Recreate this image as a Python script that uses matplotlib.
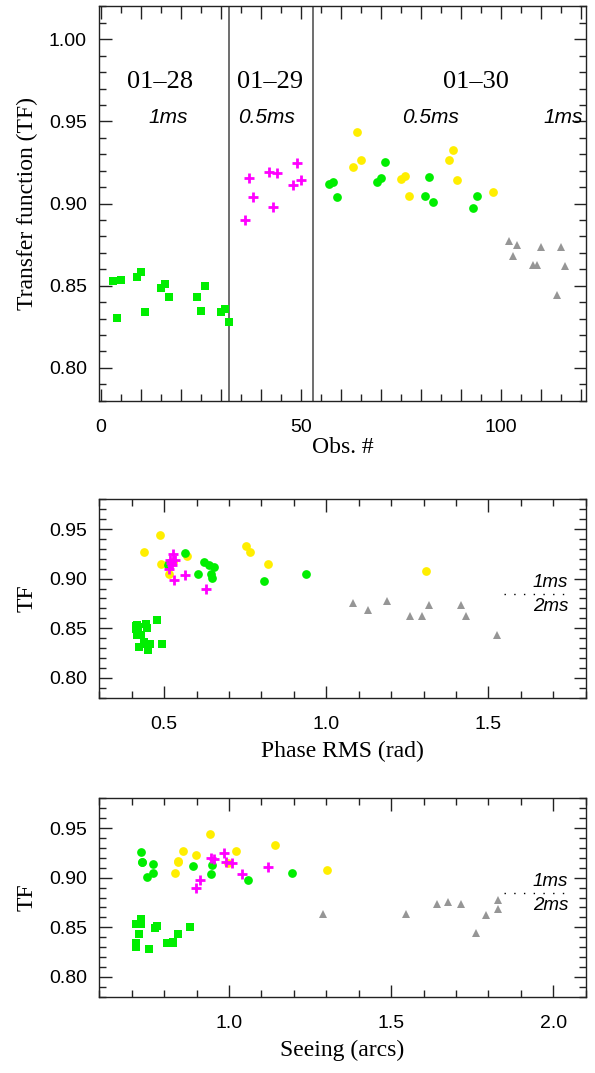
import matplotlib
matplotlib.use('Agg')
import matplotlib.pyplot as plt
from matplotlib.ticker import MultipleLocator, FuncFormatter

plt.rcParams['font.family'] = 'Liberation Sans'

# colours / groups
c_sq = '#00ee00'     # 01-28, 1ms
c_pl = '#ff00ff'     # 01-29, 0.5ms
c_gc = '#00ee00'     # 01-30, green circles
c_yc = '#ffee00'     # 01-30, yellow circles
c_tr = '#969696'     # 01-30, 1ms

# ---- panel 1: TF vs observation number ----
obs_sq = [3, 4, 5, 9, 10, 11, 15, 16, 17, 24, 25, 26, 30, 31, 32]
tf_sq = [0.853, 0.8305, 0.8537, 0.855, 0.8584, 0.834, 0.8488, 0.851, 0.8431,
         0.8429, 0.8343, 0.8498, 0.834, 0.8356, 0.8276]
obs_pl = [36, 37, 38, 42, 43, 44, 48, 49, 50]
tf_pl = [0.890, 0.9153, 0.9041, 0.919, 0.898, 0.9184, 0.9113, 0.9247, 0.9145]
obs_gc = [57, 58, 59, 69, 70, 71, 81, 82, 83, 93, 94]
tf_gc = [0.912, 0.9131, 0.9041, 0.9131, 0.9157, 0.9255, 0.9047, 0.9163,
         0.901, 0.8972, 0.9047]
obs_yc = [63, 64, 65, 75, 76, 77, 87, 88, 89, 98]
tf_yc = [0.9225, 0.9433, 0.9266, 0.915, 0.9165, 0.9045, 0.9263, 0.9329,
         0.9143, 0.9073]
obs_tr = [102, 103, 104, 108, 109, 110, 114, 115, 116]
tf_tr = [0.8772, 0.8682, 0.8745, 0.8627, 0.8627, 0.8735, 0.8443, 0.8735, 0.8619]

night_breaks = [32, 53]
night_labels = ['01\u201328', '01\u201329', '01\u201330']
night_x = [14.75, 42.25, 93.75]
dt_labels = ['1ms', '0.5ms', '0.5ms', '1ms']
dt_x = [16.75, 41.5, 82.5, 115.5]

# ---- panel 2: TF vs phase RMS ----
ph_sq = [0.412, 0.418, 0.413, 0.443, 0.447, 0.477, 0.415, 0.430, 0.437, 0.443,
         0.456, 0.494, 0.423, 0.450, 0.416]
ph_tf_sq = [0.8527, 0.8516, 0.849, 0.8547, 0.850, 0.8585, 0.8429, 0.8429,
            0.8357, 0.8337, 0.8343, 0.834, 0.8306, 0.8276, 0.8537]
ph_pl = [0.526, 0.534, 0.525, 0.514, 0.531, 0.563, 0.630, 0.520, 0.517]
ph_tf_pl = [0.9248, 0.919, 0.9139, 0.910, 0.8983, 0.904, 0.890, 0.9155, 0.9184]
ph_gc = [0.564, 0.512, 0.515, 0.624, 0.637, 0.653, 0.604, 0.643, 0.649, 0.808,
         0.938]
ph_tf_gc = [0.9255, 0.9133, 0.9157, 0.9163, 0.9133, 0.9119, 0.9047, 0.9044,
            0.901, 0.8972, 0.9047]
ph_yc = [0.486, 0.439, 0.491, 0.514, 0.527, 0.570, 0.753, 0.764, 0.821, 1.307]
ph_tf_yc = [0.9435, 0.9265, 0.9149, 0.9047, 0.9166, 0.9224, 0.9333, 0.9265,
            0.9143, 0.9074]
ph_tr = [1.083, 1.128, 1.188, 1.257, 1.295, 1.317, 1.414, 1.432, 1.526]
ph_tf_tr = [0.8751, 0.8682, 0.8773, 0.862, 0.862, 0.8733, 0.8733, 0.862, 0.8436]

# ---- panel 3: TF vs seeing ----
se_sq = [0.729, 0.729, 0.729, 0.712, 0.721, 0.712, 0.712, 0.754, 0.773, 0.778,
         0.808, 0.828, 0.828, 0.842, 0.879]
se_tf_sq = [0.8582, 0.8558, 0.8531, 0.8538, 0.8433, 0.8337, 0.8306, 0.828,
            0.849, 0.851, 0.8341, 0.8354, 0.834, 0.8429, 0.850]
se_pl = [0.898, 0.910, 0.943, 0.954, 0.984, 0.991, 1.009, 1.040, 1.120]
se_tf_pl = [0.8898, 0.8977, 0.9198, 0.9184, 0.9249, 0.916, 0.9143, 0.9041,
            0.9112]
se_gc = [0.729, 0.731, 0.733, 0.765, 0.765, 0.748, 0.888, 0.949, 0.944, 1.059,
         1.193]
se_tf_gc = [0.9255, 0.916, 0.9163, 0.9133, 0.9048, 0.901, 0.9119, 0.913,
            0.9041, 0.8973, 0.9048]
se_yc = [0.941, 0.857, 0.898, 0.843, 0.844, 0.833, 1.022, 0.997, 1.141, 1.303]
se_tf_yc = [0.9436, 0.9265, 0.9224, 0.9167, 0.9153, 0.9048, 0.9265, 0.9143,
            0.9334, 0.9075]
se_tr = [1.291, 1.547, 1.642, 1.676, 1.715, 1.761, 1.793, 1.828, 1.828]
se_tf_tr = [0.863, 0.863, 0.8739, 0.8755, 0.8739, 0.8446, 0.8622, 0.8776,
            0.8688]

serif = 'Liberation Serif'
lab_fs = 17
tick_fs = 14


def style_axis(ax):
    for sp in ax.spines.values():
        sp.set_linewidth(1.0)
        sp.set_color('#222222')
    ax.tick_params(which='both', direction='in', top=True, right=True,
                   labelsize=tick_fs, color='#222222')
    ax.tick_params(which='major', length=9, width=1.0)
    ax.tick_params(which='minor', length=5, width=1.0)
    ax.tick_params(axis='y', pad=9)
    ax.tick_params(axis='x', pad=13)
    ax.yaxis.set_major_locator(MultipleLocator(0.05))
    ax.yaxis.set_minor_locator(MultipleLocator(0.01))
    ax.yaxis.set_major_formatter(FuncFormatter(lambda v, p: f'{v:.2f}'))


def draw_groups(ax, xs, ys):
    (x1, x2, x3, x4, x5), (y1, y2, y3, y4, y5) = xs, ys
    ax.plot(x1, y1, 's', color=c_sq, ms=5.5, mew=0, zorder=3)
    ax.plot(x4, y4, 'o', color=c_yc, ms=6.3, mew=0, zorder=3)
    ax.plot(x3, y3, 'o', color=c_gc, ms=6.3, mew=0, zorder=3)
    ax.plot(x2, y2, '+', color=c_pl, ms=6.5, mew=2, zorder=4)
    ax.plot(x5, y5, '^', color=c_tr, ms=5.8, mew=0, zorder=3)


def dt_key(ax):
    tr = ax.get_yaxis_transform()
    ax.plot([0.831, 0.962], [0.885, 0.885], transform=tr, color='black',
            lw=1.0, linestyle=(0, (1, 6)))
    ax.text(0.964, 0.896, '1ms', transform=tr, ha='right', va='center',
            style='italic', fontsize=13.5)
    ax.text(0.964, 0.872, '2ms', transform=tr, ha='right', va='center',
            style='italic', fontsize=13.5)


fig = plt.figure(figsize=(5.95, 10.73), dpi=100)
L, W = 0.1669, 0.8175
ax1 = fig.add_axes([L, 0.6266, W, 0.3674])
ax2 = fig.add_axes([L, 0.3498, W, 0.1849])
ax3 = fig.add_axes([L, 0.0711, W, 0.1849])

# top panel
style_axis(ax1)
draw_groups(ax1, (obs_sq, obs_pl, obs_gc, obs_yc, obs_tr),
            (tf_sq, tf_pl, tf_gc, tf_yc, tf_tr))
for xb in night_breaks:
    ax1.axvline(xb, color='#555555', lw=1.2, zorder=2)
for lbl, xx in zip(night_labels, night_x):
    ax1.text(xx, 0.974, lbl, ha='center', va='center', family=serif,
             fontsize=19)
for lbl, xx in zip(dt_labels, dt_x):
    ax1.text(xx, 0.9525, lbl, ha='center', va='center', style='italic',
             fontsize=15)
ax1.set_xlim(-0.4, 121.2)
ax1.set_ylim(0.78, 1.02)
ax1.xaxis.set_major_locator(MultipleLocator(10))
ax1.xaxis.set_minor_locator(MultipleLocator(5))
ax1.xaxis.set_major_formatter(
    FuncFormatter(lambda v, p: f'{v:.0f}' if round(v) % 50 == 0 else ''))
ax1.set_xlabel('Obs. #', family=serif, fontsize=lab_fs, labelpad=1)
ax1.set_ylabel('Transfer function (TF)', family=serif, fontsize=lab_fs,
               labelpad=8)

# middle panel
style_axis(ax2)
draw_groups(ax2, (ph_sq, ph_pl, ph_gc, ph_yc, ph_tr),
            (ph_tf_sq, ph_tf_pl, ph_tf_gc, ph_tf_yc, ph_tf_tr))
dt_key(ax2)
ax2.set_xlim(0.3, 1.8)
ax2.set_ylim(0.78, 0.98)
ax2.xaxis.set_major_locator(MultipleLocator(0.5))
ax2.xaxis.set_minor_locator(MultipleLocator(0.1))
ax2.xaxis.set_major_formatter(FuncFormatter(lambda v, p: f'{v:.1f}'))
ax2.set_xlabel('Phase RMS (rad)', family=serif, fontsize=lab_fs, labelpad=6)
ax2.set_ylabel('TF', family=serif, fontsize=lab_fs, labelpad=8)

# bottom panel
style_axis(ax3)
draw_groups(ax3, (se_sq, se_pl, se_gc, se_yc, se_tr),
            (se_tf_sq, se_tf_pl, se_tf_gc, se_tf_yc, se_tf_tr))
dt_key(ax3)
ax3.set_xlim(0.6, 2.1)
ax3.set_ylim(0.78, 0.98)
ax3.xaxis.set_major_locator(MultipleLocator(0.5))
ax3.xaxis.set_minor_locator(MultipleLocator(0.1))
ax3.xaxis.set_major_formatter(FuncFormatter(lambda v, p: f'{v:.1f}'))
ax3.set_xlabel('Seeing (arcs)', family=serif, fontsize=lab_fs, labelpad=6)
ax3.set_ylabel('TF', family=serif, fontsize=lab_fs, labelpad=8)

fig.savefig('out.png', dpi=100)
